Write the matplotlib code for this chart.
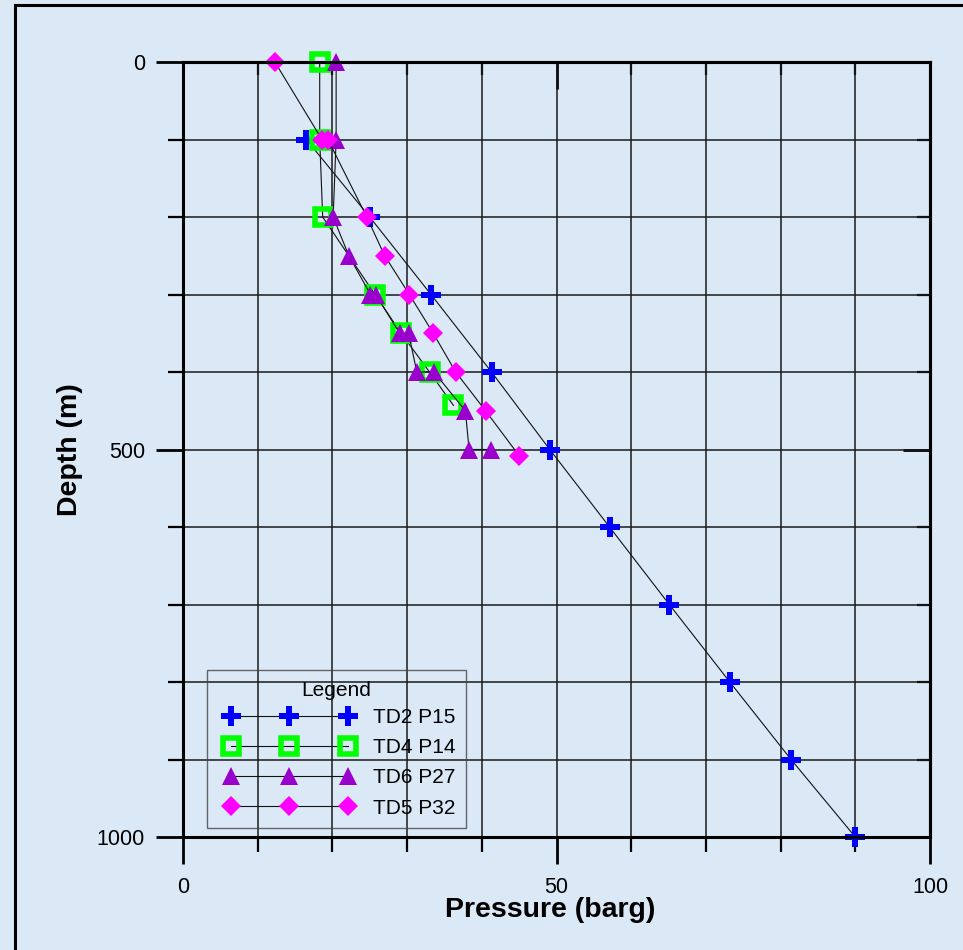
import numpy as np
import matplotlib.pyplot as plt
from matplotlib.lines import Line2D
from matplotlib.legend_handler import HandlerLine2D
from matplotlib.patches import Rectangle
from matplotlib.ticker import MultipleLocator

plt.rcParams['font.family'] = ['Liberation Sans', 'DejaVu Sans']

# pressure (barg) vs depth (m) per well
td2_depth = [100, 200, 300, 400, 500, 600, 700, 800, 900, 1000]
td2_press = [16.5, 25.0, 33.2, 41.3, 49.1, 57.1, 65.1, 73.2, 81.4, 90.0]

td4_depth = [0, 100, 200, 300, 350, 400, 443]
td4_press = [18.3, 18.3, 18.7, 25.7, 29.2, 33.0, 36.2]

td6_depth = [0, 100, 200, 250, 300, 300, 350, 350, 400, 400, 450, 500, 500]
td6_press = [20.5, 20.5, 20.1, 22.2, 25.1, 25.8, 29.0, 30.2, 31.3, 33.6, 37.8, 38.3, 41.2]

td5_depth = [0, 100, 100, 200, 250, 300, 350, 400, 450, 508]
td5_press = [12.3, 18.6, 19.4, 24.6, 27.0, 30.3, 33.5, 36.5, 40.5, 45.0]

bg = '#dbe8f6'
fig = plt.figure(figsize=(9.63, 9.5), dpi=100, facecolor=bg)
ax = fig.add_axes([183/963, 1-837/950, 747/963, 775/950])
ax.set_facecolor('none')

line_kw = dict(color='#111111', lw=0.8, clip_on=False)
ax.plot(td2_press, td2_depth, marker='P', ms=15, mfc='#0000ff', mec='#0000ff', mew=0,
        label='TD2 P15', **line_kw)
ax.plot(td4_press, td4_depth, marker='s', ms=11, mfc='none', mec='#00ff00', mew=4,
        label='TD4 P14', **line_kw)
ax.plot(td6_press, td6_depth, marker='^', ms=13.5, mfc='#9900cc', mec='#9900cc', mew=0,
        label='TD6 P27', **line_kw)
ax.plot(td5_press, td5_depth, marker='D', ms=9.8, mfc='#ff00ff', mec='#ff00ff', mew=0,
        label='TD5 P32', **line_kw)

ax.set_xlim(0, 100)
ax.set_ylim(1000, 0)
ax.xaxis.set_major_locator(MultipleLocator(50))
ax.xaxis.set_minor_locator(MultipleLocator(10))
ax.yaxis.set_major_locator(MultipleLocator(500))
ax.yaxis.set_minor_locator(MultipleLocator(100))
ax.grid(True, which='both', color='#1a1a1a', lw=1.1)
ax.set_axisbelow(True)

for s in ax.spines.values():
    s.set_linewidth(2.2)
ax.tick_params(which='major', direction='out', length=19.5, width=2, labelsize=15.5)
ax.tick_params(which='minor', direction='out', length=10.5, width=1.6)
ax.tick_params(axis='x', which='major', pad=9)
ax.tick_params(axis='y', which='major', pad=8)

# inward ticks on the top and right edges
top = ax.secondary_xaxis('top')
right = ax.secondary_yaxis('right')
for sec in (top, right):
    sec.tick_params(which='major', direction='in', length=19.5, width=2, labelsize=0)
    sec.tick_params(which='minor', direction='in', length=9.5, width=1.6)
    sec.spines[:].set_linewidth(2.2)
top.xaxis.set_major_locator(MultipleLocator(50))
top.xaxis.set_minor_locator(MultipleLocator(10))
right.yaxis.set_major_locator(MultipleLocator(500))
right.yaxis.set_minor_locator(MultipleLocator(100))
top.set_xticklabels([])
right.set_yticklabels([])

ax.set_xlabel('Pressure (barg)', fontsize=20.5, fontweight='bold', va='top')
ax.xaxis.set_label_coords(0.491, -0.078)
ax.set_ylabel('Depth (m)', fontsize=20.5, fontweight='bold', va='center')
ax.yaxis.set_label_coords(-0.151, 0.5)

leg = ax.legend(loc='lower left', bbox_to_anchor=(0.032, 0.0116), borderaxespad=0,
                title='Legend', fontsize=15, title_fontsize=15, fancybox=False,
                facecolor='none', edgecolor='#444444', borderpad=0.5,
                handlelength=6.92, handletextpad=0.56, labelspacing=0.54,
                handler_map={Line2D: HandlerLine2D(numpoints=3, marker_pad=0.64)})
leg.get_frame().set_linewidth(1.0)
leg._legend_box.sep = 6

fig.add_artist(Rectangle((15/963, -0.1), 1.2, 0.1 + 1 - 5/950, transform=fig.transFigure,
                         fill=False, edgecolor='black', lw=2.2))

fig.savefig('out.png', dpi=100, facecolor=bg)
